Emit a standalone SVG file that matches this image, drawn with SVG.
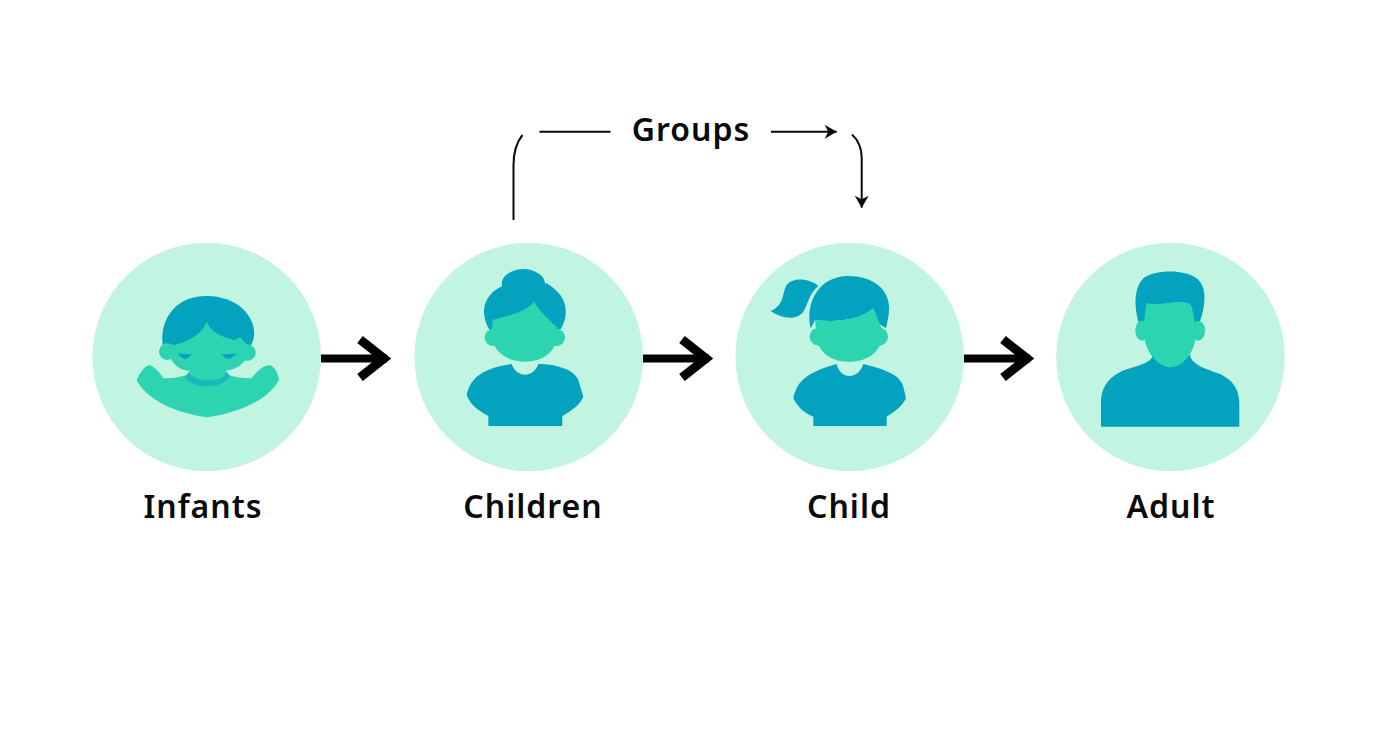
<svg xmlns="http://www.w3.org/2000/svg" width="1392" height="752" viewBox="0 0 1392 752">
<style>
.disc{fill:#c1f5e1}
.teal{fill:#03a3c0}
.green{fill:#2dd4b0}
.collar{fill:#1ab8b8}
text{font-family:"Noto Sans","Open Sans",sans-serif;font-weight:600;font-size:32px;fill:#0a0a0a;letter-spacing:1px;text-anchor:middle}
.big{fill:none;stroke:#000;stroke-width:8}
.thin{fill:none;stroke:#0a0a0a;stroke-width:2}
</style>
<defs>
<marker id="chev" markerUnits="userSpaceOnUse" markerWidth="40" markerHeight="50" refX="30" refY="25" orient="auto" overflow="visible">
<path d="M3 6 L27 25 L3 44" fill="none" stroke="#000" stroke-width="9"/>
</marker>
<marker id="barb" markerUnits="userSpaceOnUse" markerWidth="16" markerHeight="16" refX="12" refY="7" orient="auto" overflow="visible">
<path d="M0 0 L12 7 L0 14 L3.500 7Z" fill="#0a0a0a"/>
</marker>
</defs>
<rect width="1392" height="752" fill="#fff"/>
<g id="connectors">
<path class="big" d="M321 358.500H387" marker-end="url(#chev)"/>
<path class="big" d="M643 358.500H709" marker-end="url(#chev)"/>
<path class="big" d="M964 358.500H1030" marker-end="url(#chev)"/>
<path class="thin" d="M513.500 220V165C513.500 152 516 143 522.500 135"/>
<path class="thin" d="M539.500 131.700H610.500"/>
<path class="thin" d="M771 131.700H836.700" marker-end="url(#barb)"/>
<path class="thin" d="M852 134.500C858 140 861.700 147 861.700 158V207.700" marker-end="url(#barb)"/>
</g>
<g id="node-infants">
<circle class="disc" cx="206.700" cy="357" r="114.300"/>
<g transform="translate(90 240) scale(.33333)">
<path class="teal" d="M220 325C205 260 240 168 350 168C450 168 505 240 490 300L478 328H240Z"/>
<path class="green" d="M140 420C150 398 165 375 180 376C195 380 210 400 220 415C250 415 280 410 297 402H410C430 412 460 415 485 415C500 395 520 375 540 376C555 380 565 405 567 418C540 480 440 520 352 532C260 520 170 480 140 420Z"/>
<path class="collar" d="M285 412C298 448 405 448 420 408L410 395H297Z"/>
<circle class="green" cx="232" cy="335" r="25"/>
<circle class="green" cx="472" cy="338" r="25"/>
<path class="green" d="M236 318C290 308 335 285 350 245C362 275 395 292 435 300L450 292L478 322C478 365 440 390 408 392V400C395 428 320 430 297 400V392C262 390 236 365 236 318Z"/>
<path class="teal" d="M262 339Q285 345 305 342Q292 360 282 356Q270 352 262 339Z"/>
<path class="teal" d="M395 342Q420 345 440 339Q430 352 420 356Q405 358 395 342Z"/>
</g>
<text x="203" y="518">Infants</text>
</g>
<g id="node-children">
<circle class="disc" cx="528.700" cy="357" r="114.300"/>
<g transform="translate(410 240) scale(.33333)">
<ellipse class="teal" cx="340" cy="132" rx="65" ry="45"/>
<path class="teal" d="M240 272C210 225 215 170 272 140L410 130C462 160 485 210 452 268Z"/>
<circle class="green" cx="250" cy="292" r="26"/>
<circle class="green" cx="439" cy="292" r="26"/>
<path class="green" d="M248 240C300 225 350 215 372 185C390 215 420 240 444 265C446 335 400 365 345 365C290 365 245 335 245 280Z"/>
<path class="teal" d="M305 372C320 415 370 415 385 372C430 372 490 385 505 420L520 470C510 495 480 515 457 528V558H235V528C210 515 180 495 170 465C180 420 210 385 305 372Z"/>
</g>
<text x="533" y="518">Children</text>
</g>
<g id="node-child">
<circle class="disc" cx="849.700" cy="357" r="114.300"/>
<g transform="translate(730 240) scale(.33333)">
<path class="teal" d="M265 138C240 115 190 110 170 135C155 160 165 195 122 213C160 240 205 240 222 212C235 190 235 165 265 138Z"/>
<path class="teal" d="M242 265C225 190 265 108 355 108C440 108 490 160 475 230L468 265L445 250L430 205C400 235 330 250 255 240Z"/>
<circle class="green" cx="266" cy="290" r="27"/>
<circle class="green" cx="447" cy="290" r="27"/>
<path class="green" d="M255 240C330 250 400 235 430 205C440 230 450 250 458 275C458 335 415 365 355 365C300 365 262 335 260 285Z"/>
<path class="teal" d="M320 372C330 420 385 420 400 372C450 385 510 400 520 440L528 475C515 500 495 515 470 530V558H250V530C225 520 205 505 190 475C200 430 220 400 320 372Z"/>
</g>
<text x="849" y="518">Child</text>
</g>
<g id="node-adult">
<circle class="disc" cx="1170.500" cy="357" r="114.300"/>
<g transform="translate(1050 240) scale(.33333)">
<path class="teal" d="M153 560V490C153 430 190 400 240 385C270 375 300 370 310 345H420C425 370 450 380 490 395C540 410 568 440 568 490V560Z"/>
<path class="teal" d="M265 245C250 190 255 140 280 115C310 90 400 85 440 115C470 140 470 190 448 250L425 250V200H295V250Z"/>
<ellipse class="green" cx="276" cy="272" rx="20" ry="30"/>
<ellipse class="green" cx="445" cy="272" rx="20" ry="30"/>
<path class="green" d="M290 190C340 198 380 178 418 190C432 200 438 280 436 300C428 345 395 382 362 382C330 382 292 345 285 300C282 270 282 220 290 190Z"/>
</g>
<text x="1171" y="518">Adult</text>
</g>
<text x="691" y="141">Groups</text>
</svg>
